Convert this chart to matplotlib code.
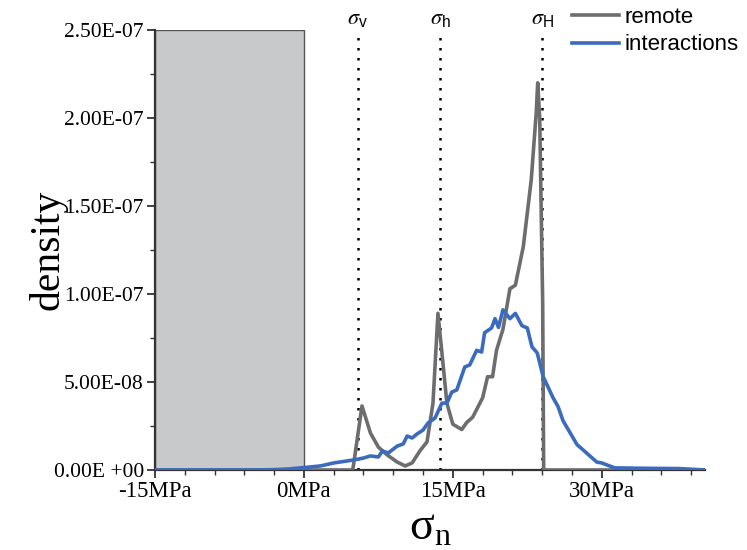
import numpy as np
import matplotlib
matplotlib.use("Agg")
import matplotlib.pyplot as plt
from matplotlib.patches import Rectangle

# remote stress distribution (MPa, density)
remote_x = [-15, 4.9, 5.0, 5.85, 6.7, 7.5, 8.4, 9.4, 10.2, 10.9, 11.7, 12.4, 13.0,
            13.5, 14.0, 14.4, 15.0, 15.9, 16.4, 17.0, 18.0, 18.5, 19.0, 19.4, 20.05,
            20.75, 21.3, 22.1, 22.9, 23.4, 23.55, 23.75, 24.05, 24.15, 40.5]
remote_y = [0, 0, 0.3e-8, 3.64e-8, 2.1e-8, 1.3e-8, 0.85e-8, 0.45e-8, 0.23e-8, 0.4e-8,
            1.1e-8, 1.6e-8, 3.8e-8, 8.9e-8, 6.1e-8, 3.8e-8, 2.6e-8, 2.3e-8, 2.7e-8,
            3.0e-8, 4.1e-8, 5.3e-8, 5.3e-8, 6.8e-8, 8.0e-8, 1.03e-7, 1.05e-7, 1.27e-7,
            1.65e-7, 2.03e-7, 2.2e-7, 2.0e-7, 0.95e-7, 0, 0]

# stress distribution with interactions
inter_x = [-15, -6, -3, -1.5, -0.35, 1.66, 3.0, 5.0, 6.0, 6.7, 7.5, 7.9, 8.5, 9.4, 10.0,
           10.4, 10.9, 11.4, 12.0, 12.5, 13.2, 13.9, 14.4, 14.9, 15.4, 16.2, 16.7,
           17.4, 17.9, 18.2, 18.9, 19.25, 19.6, 20.05, 20.75, 21.3, 21.96, 22.5,
           22.97, 23.5, 24.1, 25.1, 25.6, 26.1, 27.5, 28.8, 29.5, 30.0, 31.3, 33.8,
           37.8, 40.5]
inter_y = [0, 0, 0.2e-9, 0.6e-9, 1.2e-9, 2.3e-9, 4e-9, 5.7e-9, 6.8e-9, 8e-9, 7.4e-9,
           1.08e-8, 9.7e-9, 1.36e-8, 1.48e-8, 1.93e-8, 1.82e-8, 2.05e-8, 2.27e-8,
           2.67e-8, 2.95e-8, 3.8e-8, 3.8e-8, 4.43e-8, 4.55e-8, 5.85e-8, 5.97e-8,
           6.8e-8, 6.7e-8, 7.8e-8, 8.07e-8, 8.6e-8, 8.1e-8, 9.1e-8, 8.6e-8, 8.9e-8,
           8.2e-8, 8.07e-8, 7.0e-8, 6.65e-8, 5.3e-8, 4.1e-8, 3.6e-8, 2.8e-8, 1.45e-8,
           8e-9, 4.5e-9, 4e-9, 1.2e-9, 1e-9, 0.8e-9, 0]

# principal stresses
stress_names = [r"$\sigma_\mathregular{v}$", r"$\sigma_\mathregular{h}$", r"$\sigma_\mathregular{H}$"]
stress_vals = [5.4, 13.7, 24.0]

xticks = [-15, 0, 15, 30]
xtick_labels = ["-15MPa", "0MPa", "15MPa", "30MPa"]
yticks = [0, 5e-8, 1e-7, 1.5e-7, 2e-7, 2.5e-7]
ytick_labels = ["0.00E +00", "5.00E-08", "1.00E-07", "1.50E-07", "2.00E-07", "2.50E-07"]

plt.rcParams["font.family"] = ["Liberation Serif", "DejaVu Serif"]
plt.rcParams["mathtext.fontset"] = "stix"

fig = plt.figure(figsize=(7.47, 5.5), dpi=100)
ax = fig.add_axes([155 / 747, 1 - 470 / 550, 550 / 747, 440 / 550])

ax.add_patch(Rectangle((-15, 0), 15, 2.5e-7, facecolor="#c8c9cb",
                       edgecolor="#555555", linewidth=1.0, zorder=1))

for name, v in zip(stress_names, stress_vals):
    ax.axvline(v, color="black", linestyle=(0, (1, 3)), linewidth=1.8, zorder=2)
    ax.text(v, 2.505e-7, name, ha="center", va="bottom", fontsize=16,
            family="Liberation Sans")

ax.plot(remote_x, remote_y, color="#6d6d6f", linewidth=2.6, label="remote", zorder=3)
ax.plot(inter_x, inter_y, color="#3a6bbf", linewidth=2.6, label="interactions", zorder=4)

ax.set_xlim(-15, 40.4)
ax.set_ylim(0, 2.5e-7)
ax.set_xticks(xticks)
ax.set_xticklabels(xtick_labels, fontsize=16.5)
ax.set_xticks(np.arange(-15, 41, 3), minor=True)
ax.set_yticks(yticks)
ax.set_yticklabels(ytick_labels, fontsize=15.5)
ax.set_yticks(np.arange(0, 2.51e-7, 2.5e-8), minor=True)

for s in ["top", "right"]:
    ax.spines[s].set_visible(False)
for s in ["left", "bottom"]:
    ax.spines[s].set_color("#333333")
    ax.spines[s].set_linewidth(1.6)
ax.tick_params(which="major", direction="out", length=6, width=1.3, color="#333333", pad=2)
ax.tick_params(which="minor", direction="out", length=3.5, width=1.0, color="#333333")

ax.set_ylabel("density", fontsize=30, labelpad=-10)
ax.set_xlabel(r"$\mathregular{σ_n}$", fontsize=33, labelpad=4)

leg = ax.legend(loc="upper left", bbox_to_anchor=(0.742, 1.073), frameon=False,
                prop={"family": "Liberation Sans", "size": 16}, handlelength=2.1,
                handletextpad=0.25, labelspacing=0.3, borderaxespad=0)

fig.savefig("out.png", dpi=100)
